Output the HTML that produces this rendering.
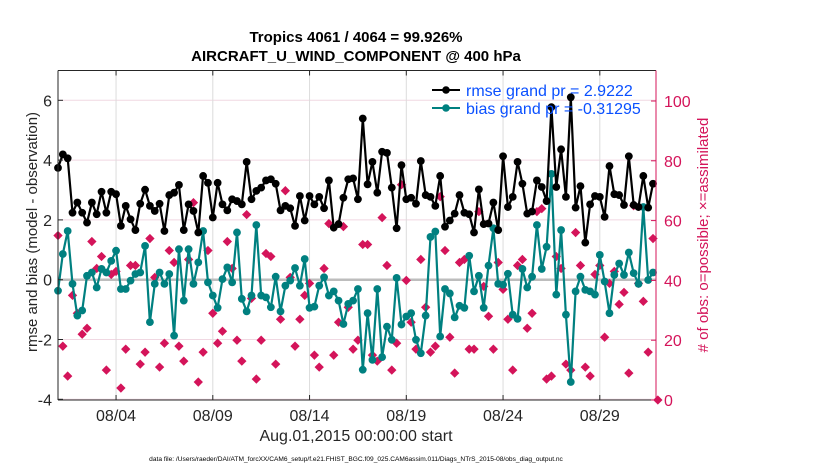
<!DOCTYPE html>
<html><head><meta charset="utf-8"><style>
body{margin:0;background:#fff;}
svg{display:block;font-family:"Liberation Sans",Arial,sans-serif;}
</style></head><body>
<svg id="chart" width="830" height="470" viewBox="0 0 830 470">
<rect x="0" y="0" width="830" height="470" fill="#fff"/>
<g id="grid"></g><g id="marks"></g><g id="axes"></g>
<text x="356" y="42" text-anchor="middle" font-size="15" font-weight="bold" fill="#000">Tropics 4061 / 4064 = 99.926%</text>
<text x="356" y="61" text-anchor="middle" font-size="15" font-weight="bold" fill="#000">AIRCRAFT_U_WIND_COMPONENT @ 400 hPa</text>
<text transform="translate(37,232) rotate(-90)" text-anchor="middle" font-size="15" fill="#262626">rmse and bias (model - observation)</text>
<text transform="translate(708,235) rotate(-90)" text-anchor="middle" font-size="15" fill="#d4145a"># of obs: o=possible; ×=assimilated</text>
<text x="356" y="441" text-anchor="middle" font-size="16" fill="#262626">Aug.01,2015 00:00:00 start</text>
<text x="356" y="461" text-anchor="middle" font-size="6.6" fill="#000">data file: /Users/raeder/DAI/ATM_forcXX/CAM6_setup/f.e21.FHIST_BGC.f09_025.CAM6assim.011/Diags_NTrS_2015-08/obs_diag_output.nc</text>
<g>
<line x1="432" y1="90" x2="460" y2="90" stroke="#000" stroke-width="2"/><circle cx="446" cy="90" r="3.8" fill="#000"/>
<text x="466" y="96" font-size="16" fill="#0a50ff">rmse grand pr = 2.9222</text>
<line x1="432" y1="108" x2="460" y2="108" stroke="#008080" stroke-width="2"/><circle cx="446" cy="108" r="3.8" fill="#008080"/>
<text x="466" y="114" font-size="16" fill="#0a50ff">bias grand pr = -0.31295</text>
</g>
</svg>
<script>
const rmse=[3.74,4.19,4.06,2.24,2.58,2.24,1.91,2.58,2.19,2.94,2.24,2.94,2.86,1.80,2.47,2.02,1.66,2.54,3.01,2.47,2.30,2.54,1.63,2.83,2.91,3.17,1.66,2.52,2.30,1.58,3.47,
3.24,2.08,3.24,2.52,2.32,2.69,2.63,2.52,3.94,2.69,2.97,3.08,3.32,3.36,3.21,2.32,2.47,2.39,1.80,2.80,1.98,2.80,2.52,2.77,2.39,3.32,1.74,1.86,2.74,3.36,
3.39,2.69,5.39,3.19,3.94,2.91,4.28,4.24,3.08,1.72,3.83,2.69,2.74,2.54,3.97,2.83,2.77,2.47,3.47,1.77,1.98,2.21,2.83,2.24,2.19,1.58,3.02,1.86,1.88,2.58,
1.66,4.13,2.43,2.77,3.94,3.21,2.21,2.28,3.32,3.10,2.63,5.77,3.10,4.36,2.77,6.10,2.41,3.13,1.24,2.52,2.80,2.77,2.10,3.80,2.86,2.83,2.50,4.13,2.50,2.43,3.47,2.41,3.21];
const bias=[-0.37,0.86,1.63,-0.14,-1.20,-1.03,0.13,0.24,-0.26,0.36,0.24,0.63,0.97,-0.31,-0.31,-0.03,0.19,0.24,1.13,-1.42,-0.14,0.24,-0.14,0.19,-1.87,1.02,-0.70,1.02,-0.14,0.58,1.63,
-0.09,-0.53,-0.94,0.02,0.41,-0.09,1.58,-0.64,-1.06,-0.53,1.83,-0.53,-0.59,-0.92,0.10,-1.06,-0.20,-0.03,0.39,-0.20,0.69,-0.94,-0.90,-0.20,0.08,-0.53,-0.39,-0.70,-1.48,-0.81,
-0.70,-0.31,-3.01,-1.12,-2.68,-0.31,-2.59,-1.57,-2.01,0.06,-1.50,-1.23,-1.12,-2.01,-2.46,-1.20,1.43,1.61,-1.90,-0.31,-0.46,-1.26,-0.87,-0.94,0.80,-0.39,0.13,-0.94,0.47,1.72,
-0.14,-0.17,0.20,-1.17,-1.31,0.36,-0.26,0.10,1.83,0.36,1.10,3.54,-0.50,1.66,-1.17,-3.42,-0.39,0.10,-0.34,-0.39,-0.50,0.83,-0.06,-1.12,0.16,0.54,0.16,0.91,0.22,-0.14,2.43,-0.01,0.24];
const nobs=[55,18,8,35,29,22,24,53,44,48,10,42,43,4,17,45,45,12,16,54,41,11,19,50,46,18,13,47,66,6,16,
50,29,19,23,53,44,20,13,62,34,7,20,49,48,12,27,70,41,18,27,35,39,15,11,44,59,15,26,58,31,
17,20,52,52,15,13,61,45,10,19,72,40,26,17,47,31,16,18,68,50,21,9,46,47,17,17,63,38,28,17,
46,37,27,10,45,47,24,29,63,64,7,8,48,44,12,10,56,45,11,8,42,45,21,39,43,32,36,9,65,39,33,16,54,0];
const leftTicks=[-4,-2,0,2,4,6];
const rightTicks=[0,20,40,60,80,100];
const dateTickDays=[3,8,13,18,23,28];
const dateTickLabels=["08/04","08/09","08/14","08/19","08/24","08/29"];

const NS="http://www.w3.org/2000/svg";
const X0=58,X1=656,Y0=70.5,Y1=400;
const xS=d=>X0+d*19.35;
const yL=v=>279.7-v*29.9;
const yR=c=>Y1-c*2.99;
function mk(tag,attrs,parent){const e=document.createElementNS(NS,tag);for(const k in attrs)e.setAttribute(k,attrs[k]);parent.appendChild(e);return e;}
const grid=document.getElementById('grid'),marks=document.getElementById('marks'),axes=document.getElementById('axes');

leftTicks.forEach(v=>{
  if(v!==0){const g=mk('line',{x1:X0,x2:X1,y1:yL(v),y2:yL(v),stroke:'#f0d8e2','stroke-width':1},grid);
  
  }
  const t=mk('text',{x:52,y:yL(v)+6,'text-anchor':'end','font-size':16,fill:'#262626'},axes);t.textContent=v;
  
  
  mk('line',{x1:X0,x2:X0+5,y1:yL(v),y2:yL(v),stroke:'#262626'},axes);
});
dateTickDays.forEach((d,i)=>{
  const g=mk('line',{x1:xS(d),x2:xS(d),y1:Y0,y2:Y1,stroke:'#dcdcdc','stroke-width':1},grid);
  
  
  mk('line',{x1:xS(d),x2:xS(d),y1:Y1,y2:Y1-5,stroke:'#262626'},axes);
  mk('line',{x1:xS(d),x2:xS(d),y1:Y0,y2:Y0+5,stroke:'#262626'},axes);
  const t=mk('text',{x:xS(d),y:421,'text-anchor':'middle','font-size':16,fill:'#262626'},axes);t.textContent=dateTickLabels[i];
  
  
});
const zl=mk('line',{x1:X0,x2:X1,y1:yL(0),y2:yL(0),stroke:'#bdbdbd','stroke-width':2.5},grid);



nobs.forEach((c,i)=>{
  const x=xS(i*0.25),y=yR(c);
  const p=mk('rect',{x:x-3.3,y:y-3.3,width:6.6,height:6.6,fill:'#d4145a',transform:`rotate(45 ${x} ${y})`},marks);
  
  
});
function series(vals,color,name){
  const pts=vals.map((v,i)=>xS(i*0.25).toFixed(1)+','+yL(v).toFixed(1)).join(' ');
  const pl=mk('polyline',{points:pts,fill:'none',stroke:color,'stroke-width':2.2,'stroke-linejoin':'round'},marks);
  
  
  vals.forEach((v,i)=>{const c=mk('circle',{cx:xS(i*0.25),cy:yL(v),r:3.9,fill:color},marks);
    
    });
}
series(bias,'#008080','bias');
series(rmse,'#000','rmse');

mk('line',{x1:X0,x2:X0,y1:Y0,y2:Y1,stroke:'#262626'},axes);
mk('line',{x1:X0,x2:X1,y1:Y1,y2:Y1,stroke:'#262626'},axes);
mk('line',{x1:X0,x2:X1,y1:Y0,y2:Y0,stroke:'#262626'},axes);
mk('line',{x1:X1,x2:X1,y1:Y0,y2:Y1,stroke:'#d4145a'},axes);
rightTicks.forEach(c=>{
  mk('line',{x1:X1,x2:X1-5,y1:yR(c),y2:yR(c),stroke:'#d4145a'},axes);
  const t=mk('text',{x:664,y:yR(c)+6,'font-size':16,fill:'#d4145a'},axes);t.textContent=c;
  
  
});
</script>
</body></html>
